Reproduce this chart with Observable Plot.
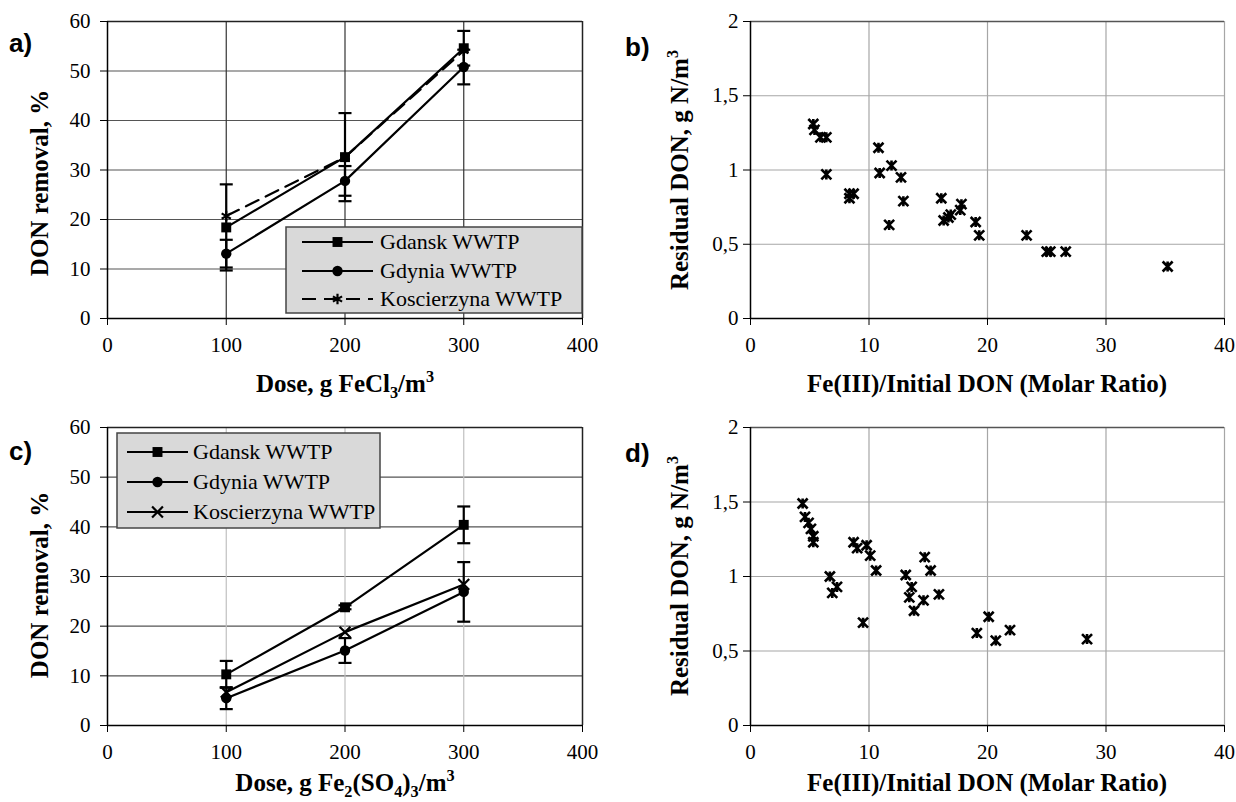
<!DOCTYPE html>
<html><head><meta charset="utf-8">
<script src="https://cdn.jsdelivr.net/npm/d3@7"></script>
<script src="https://cdn.jsdelivr.net/npm/@observablehq/plot@0.6"></script>
<style>
body{margin:0;background:#fff;}
#wrap{position:relative;width:1236px;height:802px;background:#fff;overflow:hidden;}
#wrap svg{position:absolute;overflow:visible;}
</style></head><body><div id="wrap"></div>
<script>
// ---------- data ----------
const doses = [100, 200, 300];
const doseTicks = [0, 100, 200, 300, 400];
const removalTicks = [0, 10, 20, 30, 40, 50, 60];
const ratioTicks = [0, 10, 20, 30, 40];
const residualTicks = [0, 0.5, 1, 1.5, 2];
const seriesNames = ["Gdansk WWTP", "Gdynia WWTP", "Koscierzyna WWTP"];

// a) FeCl3
const gdanskFeCl3 = [18.4, 32.6, 54.6];
const gdanskFeCl3Err = [8.7, 8.9, 3.5];
const gdyniaFeCl3 = [13.1, 27.8, 50.8];
const gdyniaFeCl3Err = [2.8, 3.0, 3.5];
const koscFeCl3 = [20.7, 32.6, 54.1];

// c) Fe2(SO4)3
const gdanskFe2 = [10.3, 23.8, 40.4];
const gdanskFe2Err = [2.7, 0.4, 3.7];
const gdyniaFe2 = [5.5, 15.1, 26.9];
const gdyniaFe2Err = [2.2, 2.5, 6.0];
const koscFe2 = [6.7, 18.8, 28.4];

// b) scatter
const ratioB = [5.3, 5.4, 5.9, 6.4, 10.8, 6.4, 8.35, 8.7, 8.35, 10.9, 11.9, 12.7, 12.9, 11.7, 16.1, 17.8, 17.7, 16.3, 16.7, 16.9, 19.0, 19.3, 23.3, 25.0, 25.3, 26.6, 35.2];
const donB   = [1.31, 1.27, 1.22, 1.22, 1.15, 0.97, 0.84, 0.84, 0.81, 0.98, 1.03, 0.95, 0.79, 0.63, 0.81, 0.77, 0.73, 0.66, 0.68, 0.70, 0.65, 0.56, 0.56, 0.45, 0.45, 0.45, 0.35];

// d) scatter
const ratioD = [4.4, 4.6, 4.9, 5.1, 5.3, 5.3, 8.7, 9.0, 9.8, 10.1, 10.6, 6.7, 7.3, 6.9, 9.5, 13.1, 13.6, 13.4, 13.8, 14.6, 14.7, 15.2, 15.9, 19.1, 20.1, 20.7, 21.9, 28.4];
const donD   = [1.49, 1.40, 1.36, 1.32, 1.27, 1.23, 1.23, 1.19, 1.21, 1.14, 1.04, 1.00, 0.93, 0.89, 0.69, 1.01, 0.93, 0.86, 0.77, 0.84, 1.13, 1.04, 0.88, 0.62, 0.73, 0.57, 0.64, 0.58];

// ---------- helpers ----------
const serif = "Liberation Serif, Times New Roman, serif";
const sans = "Liberation Sans, Arial, sans-serif";
const capSymbol = {draw(ctx, size) { const w = Math.sqrt(size / Math.PI); ctx.moveTo(-w, 0); ctx.lineTo(w, 0); }};
const starSymbol = {draw(ctx, size) { const w = Math.sqrt(size / Math.PI);
  ctx.moveTo(-w, -w); ctx.lineTo(w, w); ctx.moveTo(-w, w); ctx.lineTo(w, -w);
  ctx.moveTo(0, -w); ctx.lineTo(0, w); }};
const commaFmt = d => String(d).replace(".", ",");
const wrap = document.getElementById("wrap");
const TS = 25; // axis title size

function rows(name, vals, errs) {
  return doses.map((d, i) => ({series: name, dose: d, value: vals[i], err: errs ? errs[i] : 0}));
}

function place(svg, left, top) {
  svg.style.left = left + "px";
  svg.style.top = top + "px";
  svg.setAttribute("font-family", serif);
  svg.style.fontFamily = serif;
  wrap.appendChild(svg);
  return d3.select(svg);
}

function addText(sel, x, y, parts, {size = TS, weight = "bold", family = serif, rotate = false, anchor = "middle"} = {}) {
  const t = sel.append("text")
    .attr("font-family", family).attr("font-size", size).attr("font-weight", weight)
    .attr("text-anchor", anchor).attr("fill", "black")
    .attr("transform", rotate ? `translate(${x},${y}) rotate(-90)` : `translate(${x},${y})`);
  for (const p of parts) {
    const s = t.append("tspan").text(p.t);
    if (p.sub) s.attr("font-size", size * 0.65).attr("dy", size * 0.22);
    if (p.sup) s.attr("font-size", size * 0.65).attr("dy", -size * 0.4);
    if (p.reset) s.attr("dy", -size * 0.22);
  }
  return t;
}

const axisFont = {fontSize: 21, fontFamily: serif};

function lineChart({left, top, height, mB, data, kosSymbol, kosDash, vGrid}) {
  const marks = [
    Plot.gridY(removalTicks.slice(1, -1), {stroke: "#555", strokeOpacity: 1, strokeWidth: 1.2}),
    Plot.gridX([100, 200, 300], {stroke: vGrid, strokeOpacity: 1, strokeWidth: 1.2}),
    Plot.ruleY([60], {stroke: "#222", strokeWidth: 1.5}),
    Plot.ruleX([400], {stroke: "#222", strokeWidth: 1.5}),
    Plot.axisY({ticks: removalTicks, tickSize: 7, tickPadding: 10, label: null, ...axisFont}),
    Plot.axisX({ticks: doseTicks, tickSize: 7, tickPadding: 12, label: null, ...axisFont}),
    Plot.ruleX([0], {stroke: "black", strokeWidth: 1.5}),
    Plot.ruleY([0], {stroke: "black", strokeWidth: 1.5})
  ];
  const [g, gy, k] = data;
  for (const s of data) {
    marks.push(Plot.line(s, {x: "dose", y: "value", stroke: "black", strokeWidth: 2.2,
      strokeDasharray: s === k ? kosDash : null}));
  }
  for (const s of data) {
    const e = s.filter(d => d.err > 0);
    marks.push(Plot.ruleX(e, {x: "dose", y1: d => d.value - d.err, y2: d => d.value + d.err, stroke: "black", strokeWidth: 2.2}));
    marks.push(Plot.dot(e, {x: "dose", y: d => d.value + d.err, symbol: capSymbol, r: 6.5, stroke: "black", strokeWidth: 2.2, fill: "none"}));
    marks.push(Plot.dot(e, {x: "dose", y: d => d.value - d.err, symbol: capSymbol, r: 6.5, stroke: "black", strokeWidth: 2.2, fill: "none"}));
  }
  marks.push(Plot.dot(g, {x: "dose", y: "value", symbol: "square", r: 5.6, fill: "black", stroke: "none"}));
  marks.push(Plot.dot(gy, {x: "dose", y: "value", symbol: "circle", r: 5.2, fill: "black", stroke: "none"}));
  marks.push(Plot.dot(k, {x: "dose", y: "value", symbol: kosSymbol, r: 5, stroke: "black", strokeWidth: 2.2, fill: "none"}));
  const svg = Plot.plot({
    width: 620, height, marginLeft: 107, marginRight: 38, marginTop: 21, marginBottom: mB,
    x: {domain: [0, 400]}, y: {domain: [0, 60]},
    style: {fontFamily: serif, fontSize: "21px", color: "black", background: "white", overflow: "visible"},
    marks
  });
  return place(svg, left, top);
}

function scatterChart({left, top, height, mB, xs, ys}) {
  const pts = xs.map((x, i) => ({ratio: x, don: ys[i]}));
  const svg = Plot.plot({
    width: 616, height, marginLeft: 130, marginRight: 12, marginTop: 21, marginBottom: mB,
    x: {domain: [0, 40]}, y: {domain: [0, 2]},
    style: {fontFamily: serif, fontSize: "21px", color: "black", background: "white", overflow: "visible"},
    marks: [
      Plot.gridY(residualTicks.slice(1, -1), {stroke: "#a6a6a6", strokeOpacity: 1, strokeWidth: 1.2}),
      Plot.gridX(ratioTicks.slice(1), {stroke: "#a6a6a6", strokeOpacity: 1, strokeWidth: 1.2}),
      Plot.ruleY([2], {stroke: "#555", strokeWidth: 1.5}),
      Plot.axisY({ticks: residualTicks, tickFormat: commaFmt, tickSize: 7, tickPadding: 5, label: null, ...axisFont}),
      Plot.axisX({ticks: ratioTicks, tickSize: 7, tickPadding: 12, label: null, ...axisFont}),
      Plot.ruleX([0], {stroke: "black", strokeWidth: 1.5}),
      Plot.ruleY([0], {stroke: "black", strokeWidth: 1.5}),
      Plot.dot(pts, {x: "ratio", y: "don", symbol: starSymbol, r: 5, stroke: "black", strokeWidth: 2.6, fill: "none"})
    ]
  });
  return place(svg, left, top);
}

function legend(sel, x, y, w, h, rowYs, sampleX1, sampleX2, textX, kosSymbol, kosDash) {
  const gl = sel.append("g").attr("text-anchor", "start");
  gl.append("rect").attr("x", x).attr("y", y).attr("width", w).attr("height", h)
    .attr("fill", "#d9d9d9").attr("stroke", "#444").attr("stroke-width", 1.5);
  const mid = (sampleX1 + sampleX2) / 2;
  seriesNames.forEach((name, i) => {
    const yy = rowYs[i];
    const l = gl.append("line").attr("x1", sampleX1).attr("x2", sampleX2).attr("y1", yy).attr("y2", yy)
      .attr("stroke", "black").attr("stroke-width", 2.2);
    if (i === 2 && kosDash) l.attr("stroke-dasharray", kosDash);
    const sym = i === 0 ? d3.symbolSquare : i === 1 ? d3.symbolCircle : (kosSymbol === "times" ? d3.symbolTimes : d3.symbolAsterisk);
    const sz = i === 0 ? 5.6 * 5.6 * Math.PI : i === 1 ? 5.2 * 5.2 * Math.PI : 5 * 5 * Math.PI;
    const p = gl.append("path").attr("d", d3.symbol(sym, sz)()).attr("transform", `translate(${mid},${yy})`);
    if (i < 2) p.attr("fill", "black"); else p.attr("fill", "none").attr("stroke", "black").attr("stroke-width", 2.2);
    gl.append("text").attr("x", textX).attr("y", yy).attr("dy", "0.33em").attr("text-anchor", "start")
      .attr("font-family", serif).attr("font-size", 22).attr("fill", "black").text(name);
  });
}

// ---------- panel a ----------
const dataA = [rows(seriesNames[0], gdanskFeCl3, gdanskFeCl3Err), rows(seriesNames[1], gdyniaFeCl3, gdyniaFeCl3Err), rows(seriesNames[2], koscFeCl3)];
const a = lineChart({left: 0, top: 0, height: 402, mB: 84, data: dataA, kosSymbol: "asterisk", kosDash: "14,8", vGrid: "#333"});
legend(a, 286, 227, 296, 86, [242, 271, 299], 302, 373, 380, "asterisk", "14,8");
addText(a, 345, 392, [{t: "Dose, g FeCl"}, {t: "3", sub: true}, {t: "/m", reset: true}, {t: "3", sup: true}]);
addText(a, 48, 183, [{t: "DON removal, %"}], {rotate: true});
addText(a, 9, 52, [{t: "a)"}], {family: sans, size: 26, anchor: "start"});

// ---------- panel b ----------
const b = scatterChart({left: 620, top: 0, height: 402, mB: 84, xs: ratioB, ys: donB});
addText(b, 987 - 620, 392, [{t: "Fe(III)/Initial DON (Molar Ratio)"}]);
addText(b, 688 - 620, 170, [{t: "Residual DON, g N/m"}, {t: "3", sup: true}], {rotate: true});
addText(b, 625 - 620, 56, [{t: "b)"}], {family: sans, size: 26, anchor: "start"});

// ---------- panel c ----------
const dataC = [rows(seriesNames[0], gdanskFe2, gdanskFe2Err), rows(seriesNames[1], gdyniaFe2, gdyniaFe2Err), rows(seriesNames[2], koscFe2)];
const c = lineChart({left: 0, top: 406, height: 396, mB: 77, data: dataC, kosSymbol: "times", kosDash: null, vGrid: "#c0c0c0"});
legend(c, 117, 433 - 406, 263, 95, [452 - 406, 482 - 406, 512 - 406], 127, 188, 193, "times", null);
addText(c, 345, 791 - 406, [{t: "Dose, g Fe"}, {t: "2", sub: true}, {t: "(SO", reset: true}, {t: "4", sub: true}, {t: ")", reset: true}, {t: "3", sub: true}, {t: "/m", reset: true}, {t: "3", sup: true}]);
addText(c, 48, 585 - 406, [{t: "DON removal, %"}], {rotate: true});
addText(c, 9, 460 - 406, [{t: "c)"}], {family: sans, size: 26, anchor: "start"});

// ---------- panel d ----------
const dd = scatterChart({left: 620, top: 406, height: 396, mB: 77, xs: ratioD, ys: donD});
addText(dd, 987 - 620, 791 - 406, [{t: "Fe(III)/Initial DON (Molar Ratio)"}]);
addText(dd, 688 - 620, 576 - 406, [{t: "Residual DON, g N/m"}, {t: "3", sup: true}], {rotate: true});
addText(dd, 625 - 620, 462 - 406, [{t: "d)"}], {family: sans, size: 26, anchor: "start"});
</script>
</body></html>
